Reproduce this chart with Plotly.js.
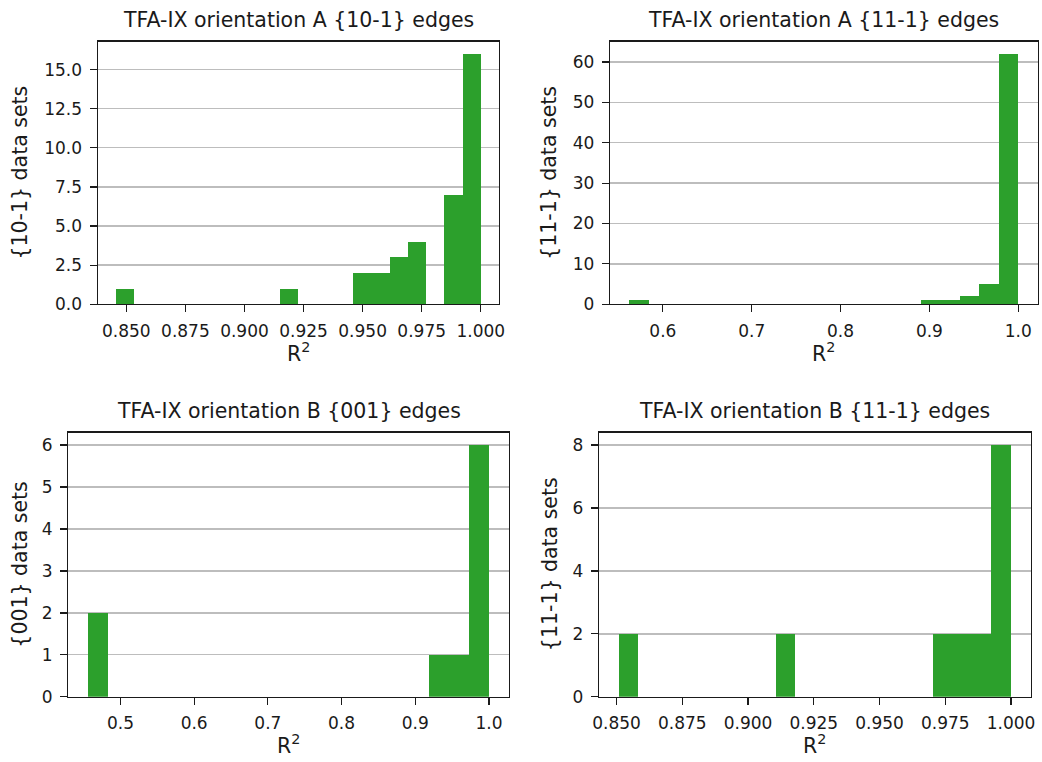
<!DOCTYPE html>
<html>
<head>
<meta charset="utf-8">
<script src="https://cdn.plot.ly/plotly-3.0.1.min.js"></script>
<style>
  html, body { margin: 0; padding: 0; background: #fff; }
  #chart { width: 1042px; height: 762px; }
</style>
</head>
<body>
<div id="chart"></div>
<script>
// R² histograms of TFA-IX edge fits, 20 equal bins per panel
const nBins = 20;

// orientation A, {10-1} edges
const rangeA101 = [0.8456, 1.0000];
const countsA101 = [1, 0, 0, 0, 0, 0, 0, 0, 0, 1, 0, 0, 0, 2, 2, 3, 4, 0, 7, 16];

// orientation A, {11-1} edges
const rangeA111 = [0.5624, 1.0000];
const countsA111 = [1, 0, 0, 0, 0, 0, 0, 0, 0, 0, 0, 0, 0, 0, 0, 1, 1, 2, 5, 62];

// orientation B, {001} edges
const rangeB001 = [0.4564, 1.0000];
const countsB001 = [2, 0, 0, 0, 0, 0, 0, 0, 0, 0, 0, 0, 0, 0, 0, 0, 0, 1, 1, 6];

// orientation B, {11-1} edges
const rangeB111 = [0.8508, 1.0000];
const countsB111 = [2, 0, 0, 0, 0, 0, 0, 0, 2, 0, 0, 0, 0, 0, 0, 0, 2, 2, 2, 8];

const panelTitles = [
  'TFA-IX orientation A {10-1} edges',
  'TFA-IX orientation A {11-1} edges',
  'TFA-IX orientation B {001} edges',
  'TFA-IX orientation B {11-1} edges'
];
const yLabels = ['{10-1} data sets', '{11-1} data sets', '{001} data sets', '{11-1} data sets'];
const xLabel = 'R<sup>2</sup>';

const panels = [
  { range: rangeA101, counts: countsA101, xdtick: 0.025, xfmt: '.3f', ydtick: 2.5, yfmt: '.1f' },
  { range: rangeA111, counts: countsA111, xdtick: 0.1, xfmt: '.1f', ydtick: 10, yfmt: 'd' },
  { range: rangeB001, counts: countsB001, xdtick: 0.1, xfmt: '.1f', ydtick: 1, yfmt: 'd' },
  { range: rangeB111, counts: countsB111, xdtick: 0.025, xfmt: '.3f', ydtick: 2, yfmt: 'd' }
];

// pixel boxes of the four axes: [left, right, top, bottom]
const W = 1042, H = 762;
const boxes = [
  [97.7, 499.0, 41.5, 304.2],
  [610.0, 1037.7, 41.5, 304.2],
  [68.3, 509.0, 432.5, 696.8],
  [599.0, 1030.7, 432.5, 696.8]
];

const GREEN = '#2ca02c';
const FONT = 'DejaVu Sans, Liberation Sans, sans-serif';
const INK = '#1a1a1a';

const traces = [];
const layout = {
  width: W, height: H,
  margin: { l: 0, r: 0, t: 0, b: 0 },
  paper_bgcolor: '#fff',
  plot_bgcolor: '#fff',
  showlegend: false,
  bargap: 0,
  font: { family: FONT, size: 17, color: INK },
  annotations: []
};

panels.forEach((p, i) => {
  const k = i === 0 ? '' : String(i + 1);
  const [lo, hi] = p.range;
  const w = (hi - lo) / nBins;
  const centers = p.counts.map((_, j) => lo + (j + 0.5) * w);

  traces.push({
    type: 'bar',
    x: centers,
    y: p.counts,
    width: p.counts.map(() => w),
    marker: { color: GREEN, line: { width: 0 } },
    xaxis: 'x' + k,
    yaxis: 'y' + k,
    hoverinfo: 'skip'
  });

  const pad = 0.05 * (hi - lo);
  const ymax = 1.05 * Math.max(...p.counts);
  const [L, R, T, B] = boxes[i];

  layout['xaxis' + k] = {
    domain: [L / W, R / W],
    anchor: 'y' + k,
    range: [lo - pad, hi + pad],
    tick0: 0, dtick: p.xdtick, tickformat: p.xfmt,
    ticks: 'outside', ticklen: 7, tickwidth: 1.2, tickcolor: INK,
    showline: true, linecolor: INK, linewidth: 1.2, mirror: true,
    showgrid: false, zeroline: false,
    tickfont: { family: FONT, size: 17, color: INK },
    ticklabelstandoff: 4
  };
  layout['yaxis' + k] = {
    domain: [1 - B / H, 1 - T / H],
    anchor: 'x' + k,
    range: [0, ymax],
    tick0: 0, dtick: p.ydtick, tickformat: p.yfmt,
    ticks: 'outside', ticklen: 7, tickwidth: 1.2, tickcolor: INK,
    showline: true, linecolor: INK, linewidth: 1.2, mirror: true,
    showgrid: true, gridcolor: '#bdbdbd', gridwidth: 1.3,
    zeroline: false,
    tickfont: { family: FONT, size: 17, color: INK },
    ticklabelstandoff: 4
  };

  const cx = (L + R) / 2;
  const cy = (T + B) / 2;
  // panel title
  layout.annotations.push({
    text: panelTitles[i], xref: 'paper', yref: 'paper',
    x: cx / W, y: 1 - (T - 21.5) / H, xanchor: 'center', yanchor: 'middle',
    showarrow: false, font: { family: FONT, size: 20.5, color: INK }
  });
  // y axis label
  layout.annotations.push({
    text: yLabels[i], xref: 'paper', yref: 'paper', textangle: -90,
    x: (L - 78) / W, y: 1 - cy / H, xanchor: 'center', yanchor: 'middle',
    showarrow: false, font: { family: FONT, size: 20.5, color: INK }
  });
  // x axis label
  layout.annotations.push({
    text: xLabel, xref: 'paper', yref: 'paper',
    x: cx / W, y: 1 - (B + 48) / H, xanchor: 'center', yanchor: 'middle',
    showarrow: false, font: { family: FONT, size: 20.5, color: INK }
  });
});

// y-label offsets differ between the left and right columns
layout.annotations[1].x = 19.7 / W;
layout.annotations[4].x = 549 / W;
layout.annotations[7].x = 20 / W;
layout.annotations[10].x = 549.5 / W;

Plotly.newPlot('chart', traces, layout, { staticPlot: true, displayModeBar: false });
</script>
</body>
</html>
